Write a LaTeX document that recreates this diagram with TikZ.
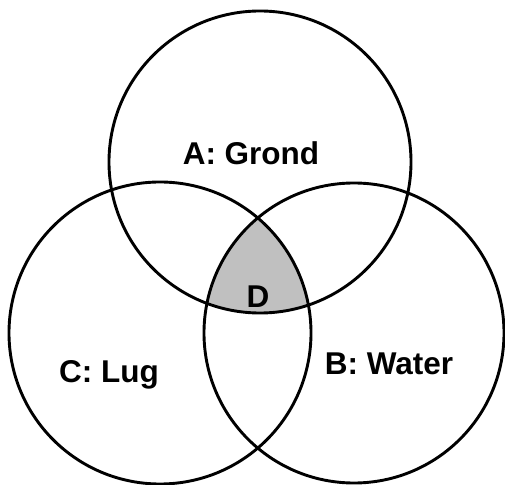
\documentclass[tikz,border=0pt]{standalone}
\usepackage{fontspec}
\setmainfont{Liberation Sans}
\definecolor{dgray}{HTML}{C0C0C0}
\tikzset{
  ring/.style={line width=2.9pt},
  lbl/.style={anchor=base,inner sep=0pt,font=\bfseries\fontsize{31.5}{36}\selectfont}
}
\begin{document}
\begin{tikzpicture}[x=1pt,y=1pt]
  \useasboundingbox (0,0) rectangle (505,484);
  \coordinate (A) at (260,322);
  \coordinate (B) at (354,151);
  \coordinate (C) at (160,151);
  \begin{scope}
    \clip (A) circle (151);
    \clip (B) circle (150);
    \fill[dgray] (C) circle (151);
  \end{scope}
  \draw[ring] (A) circle (151);
  \draw[ring] (B) circle (150);
  \draw[ring] (C) circle (151);
  \node[lbl] (grond) at (251,319) {A: Grond};
  \node[lbl] (water) at (389,109) {B: Water};
  \node[lbl] (lug)   at (109,101) {C: Lug};
  \node[lbl] (d)     at (258,176) {D};
\end{tikzpicture}
\end{document}
